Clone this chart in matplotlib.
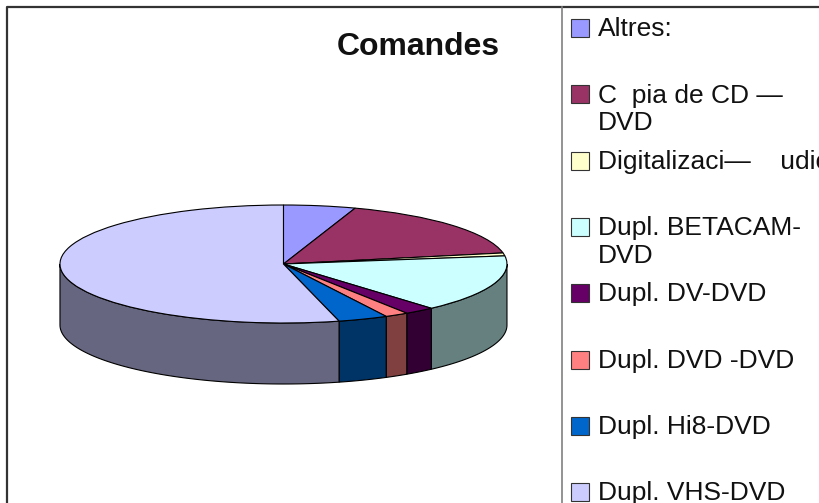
import numpy as np
import matplotlib
matplotlib.use("Agg")
import matplotlib.pyplot as plt
from matplotlib.patches import Rectangle
from matplotlib.colors import to_rgb

plt.rcParams["font.family"] = ["Liberation Sans", "DejaVu Sans"]

title = "Comandes"
labels = [
    "Altres:",
    "C  pia de CD —\nDVD",
    "Digitalizaci—    udio",
    "Dupl. BETACAM-\nDVD",
    "Dupl. DV-DVD",
    "Dupl. DVD -DVD",
    "Dupl. Hi8-DVD",
    "Dupl. VHS-DVD",
]
shares = [5.2, 16.8, 0.8, 15.7, 2.2, 1.7, 3.6, 54.0]
colors = ["#9999FF", "#993366", "#FFFFCC", "#CCFFFF",
          "#660066", "#FF8080", "#0066CC", "#CCCCFF"]

W, H = 819, 503
DEPTH = 1.034  # height of the side, in units of the vertical radius


def darker(c, f=0.5):
    return tuple(v * f for v in to_rgb(c))


fig = plt.figure(figsize=(W / 100, H / 100), dpi=100)

# one x unit = 223.5 px, one y unit = 59 px -> the pie turns into a flat ellipse
ax = fig.add_axes([4.1 / W, 103.3 / H, 558.75 / W, 212.4 / H])
ax.pie(shares, colors=colors, startangle=90, counterclock=False,
       wedgeprops=dict(edgecolor="black", linewidth=0.8))
ax.set_aspect("auto")
ax.set_xlim(-1.25, 1.25)
ax.set_ylim(-2.3, 1.3)
ax.axis("off")

# front side of the disc: only angles 90..270 (clockwise from top) show
edges = np.concatenate([[0], np.cumsum(shares)]) / sum(shares) * 360
for a0, a1, c in zip(edges[:-1], edges[1:], colors):
    lo, hi = max(a0, 90), min(a1, 270)
    if hi <= lo:
        continue
    t = np.radians(np.linspace(lo, hi, 80))
    x = np.sin(t)
    y = np.cos(t)
    ax.fill(np.r_[x, x[::-1]], np.r_[y, y[::-1] - DEPTH],
            facecolor=darker(c), edgecolor="black", linewidth=0.8, zorder=0)

# overlay in pixel coords for frame, title and legend
ov = fig.add_axes([0, 0, 1, 1])
ov.set_xlim(0, W)
ov.set_ylim(H, 0)
ov.axis("off")
ov.plot([7, 7, W + 5], [H + 5, 7, 7], color="#333333", lw=1.6, clip_on=False)
ov.plot([562, 562], [7, H + 5], color="#808080", lw=1.2, clip_on=False)
ov.text(418, 55, title, ha="center", va="baseline", fontsize=23,
        fontweight="bold", color="#111111")

for i, (lab, c) in enumerate(zip(labels, colors)):
    yc = 28 + 66.3 * i
    ov.add_patch(Rectangle((571, yc - 9), 18, 18, facecolor=c,
                           edgecolor="#333333", lw=0.8))
    ov.text(598, yc - 10.7, lab, va="top", fontsize=19, color="#111111")

fig.savefig("out.png", dpi=100)
